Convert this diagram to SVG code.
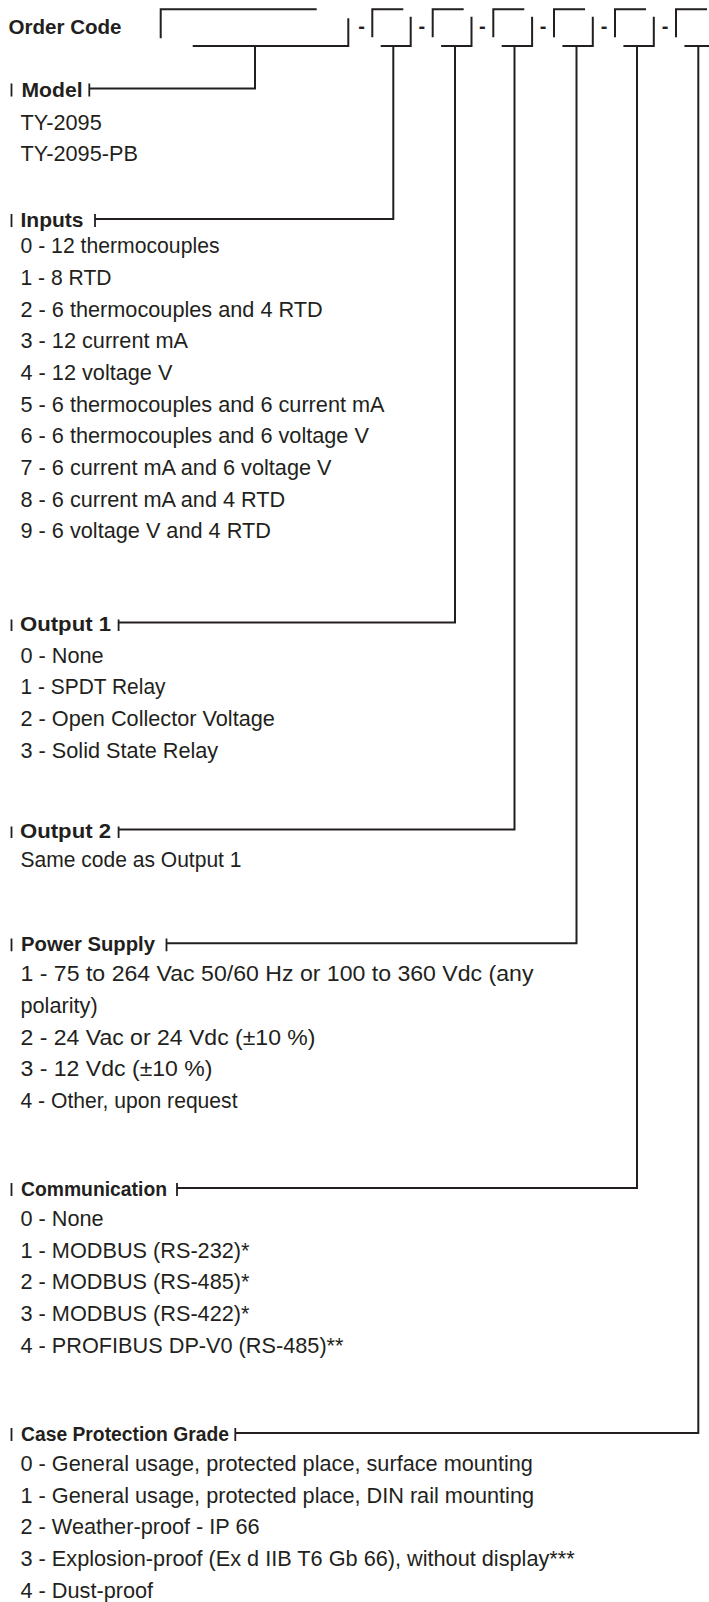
<svg xmlns="http://www.w3.org/2000/svg" width="709" height="1602" viewBox="0 0 709 1602">
<style>
.lbl{font-family:"Liberation Sans",Arial,sans-serif;font-weight:bold;font-size:20px;fill:#231f20}
.it{font-family:"Liberation Sans",Arial,sans-serif;font-size:21.7px;fill:#231f20}
.dash{font-family:"Liberation Sans",Arial,sans-serif;font-weight:bold;font-size:20px;fill:#231f20;text-anchor:middle}
.ln{stroke:#231f20;stroke-width:2;fill:none}
.tk{stroke:#231f20;stroke-width:1.8;fill:none}
</style>
<rect width="709" height="1602" fill="#ffffff"/>
<g id="order-code">
<text class="lbl" x="8.5" y="34.3" textLength="113" lengthAdjust="spacingAndGlyphs">Order Code</text>
<path class="ln" d="M160.7,38.3V9.3H316.7M192.7,46H348.3V18.3"/>
<text class="dash" x="361.5" y="33">-</text>
<path class="ln" d="M372.3,37.3V9.3H403.3M380.7,46H410.7V16.7"/>
<text class="dash" x="421.8" y="33">-</text>
<path class="ln" d="M432.7,37.3V9.3H463.7M441.1,46H471.5V16.7"/>
<text class="dash" x="482.4" y="33">-</text>
<path class="ln" d="M493.3,37.3V9.3H524.3M501.7,46H532.1V16.7"/>
<text class="dash" x="543.2" y="33">-</text>
<path class="ln" d="M554,37.3V9.3H585M562.4,46H592.8V16.7"/>
<text class="dash" x="604" y="33">-</text>
<path class="ln" d="M615,37.3V9.3H646M623.4,46H653.8V16.7"/>
<text class="dash" x="665" y="33">-</text>
<path class="ln" d="M676,37.3V9.3H707M684.4,46H714.8V16.7"/>
</g>
<g id="connectors">
<path class="ln" d="M255,46V88.5H89.3"/>
<path class="ln" d="M393.3,46V219H95"/>
<path class="ln" d="M455,46V622.5H118.6"/>
<path class="ln" d="M514.5,46V829.5H118.6"/>
<path class="ln" d="M576.5,46V943.3H166.5"/>
<path class="ln" d="M637,46V1188H177"/>
<path class="ln" d="M698.3,46V1433H235.3"/>
</g>
<g id="model">
<path class="tk" d="M11.5,83.5V96.5M89.3,83.5V96.5"/>
<text class="lbl" x="21.5" y="96.5" textLength="61" lengthAdjust="spacingAndGlyphs">Model</text>
<text class="it" x="20.5" y="129.5">TY-2095</text>
<text class="it" x="20.5" y="161.2">TY-2095-PB</text>
</g>
<g id="inputs">
<path class="tk" d="M11.5,214V227M95,214V227"/>
<text class="lbl" x="20.5" y="227" textLength="63" lengthAdjust="spacingAndGlyphs">Inputs</text>
<text class="it" x="20.5" y="253.3" textLength="199" lengthAdjust="spacingAndGlyphs">0 - 12 thermocouples</text>
<text class="it" x="20.5" y="285" textLength="91" lengthAdjust="spacingAndGlyphs">1 - 8 RTD</text>
<text class="it" x="20.5" y="316.6">2 - 6 thermocouples and 4 RTD</text>
<text class="it" x="20.5" y="348.3">3 - 12 current mA</text>
<text class="it" x="20.5" y="380">4 - 12 voltage V</text>
<text class="it" x="20.5" y="411.7">5 - 6 thermocouples and 6 current mA</text>
<text class="it" x="20.5" y="443.3">6 - 6 thermocouples and 6 voltage V</text>
<text class="it" x="20.5" y="475">7 - 6 current mA and 6 voltage V</text>
<text class="it" x="20.5" y="506.7">8 - 6 current mA and 4 RTD</text>
<text class="it" x="20.5" y="538.3">9 - 6 voltage V and 4 RTD</text>
</g>
<g id="output-1">
<path class="tk" d="M11.5,619.5V631M118.6,619.5V631"/>
<text class="lbl" x="20" y="630.5" textLength="91" lengthAdjust="spacingAndGlyphs">Output 1</text>
<text class="it" x="20.5" y="662.5">0 - None</text>
<text class="it" x="20.5" y="694.2" textLength="145" lengthAdjust="spacingAndGlyphs">1 - SPDT Relay</text>
<text class="it" x="20.5" y="725.8">2 - Open Collector Voltage</text>
<text class="it" x="20.5" y="757.5">3 - Solid State Relay</text>
</g>
<g id="output-2">
<path class="tk" d="M11.5,826.5V838M118.6,826.5V838"/>
<text class="lbl" x="20" y="837.5" textLength="91" lengthAdjust="spacingAndGlyphs">Output 2</text>
<text class="it" x="20.5" y="867" textLength="221" lengthAdjust="spacingAndGlyphs">Same code as Output 1</text>
</g>
<g id="power-supply">
<path class="tk" d="M11.5,938.5V951.3M166.5,938.5V951.3"/>
<text class="lbl" x="21" y="951.3" textLength="134" lengthAdjust="spacingAndGlyphs">Power Supply</text>
<text class="it" x="20.5" y="981.3" textLength="513" lengthAdjust="spacingAndGlyphs">1 - 75 to 264 Vac 50/60 Hz or 100 to 360 Vdc (any</text>
<text class="it" x="20.5" y="1013">polarity)</text>
<text class="it" x="20.5" y="1044.7" textLength="295" lengthAdjust="spacingAndGlyphs">2 - 24 Vac or 24 Vdc (±10 %)</text>
<text class="it" x="20.5" y="1076.3" textLength="192" lengthAdjust="spacingAndGlyphs">3 - 12 Vdc (±10 %)</text>
<text class="it" x="20.5" y="1108" textLength="217" lengthAdjust="spacingAndGlyphs">4 - Other, upon request</text>
</g>
<g id="communication">
<path class="tk" d="M11.5,1183V1196M177,1183V1196"/>
<text class="lbl" x="21" y="1196" textLength="146" lengthAdjust="spacingAndGlyphs">Communication</text>
<text class="it" x="20.5" y="1226">0 - None</text>
<text class="it" x="20.5" y="1257.7">1 - MODBUS (RS-232)*</text>
<text class="it" x="20.5" y="1289.3">2 - MODBUS (RS-485)*</text>
<text class="it" x="20.5" y="1321">3 - MODBUS (RS-422)*</text>
<text class="it" x="20.5" y="1352.7">4 - PROFIBUS DP-V0 (RS-485)**</text>
</g>
<g id="case-protection-grade">
<path class="tk" d="M11.5,1428V1441M235.3,1428V1441"/>
<text class="lbl" x="21" y="1441" textLength="208" lengthAdjust="spacingAndGlyphs">Case Protection Grade</text>
<text class="it" x="20.5" y="1471">0 - General usage, protected place, surface mounting</text>
<text class="it" x="20.5" y="1502.7">1 - General usage, protected place, DIN rail mounting</text>
<text class="it" x="20.5" y="1534.3">2 - Weather-proof - IP 66</text>
<text class="it" x="20.5" y="1566">3 - Explosion-proof (Ex d IIB T6 Gb 66), without display***</text>
<text class="it" x="20.5" y="1597.7">4 - Dust-proof</text>
</g>
</svg>
